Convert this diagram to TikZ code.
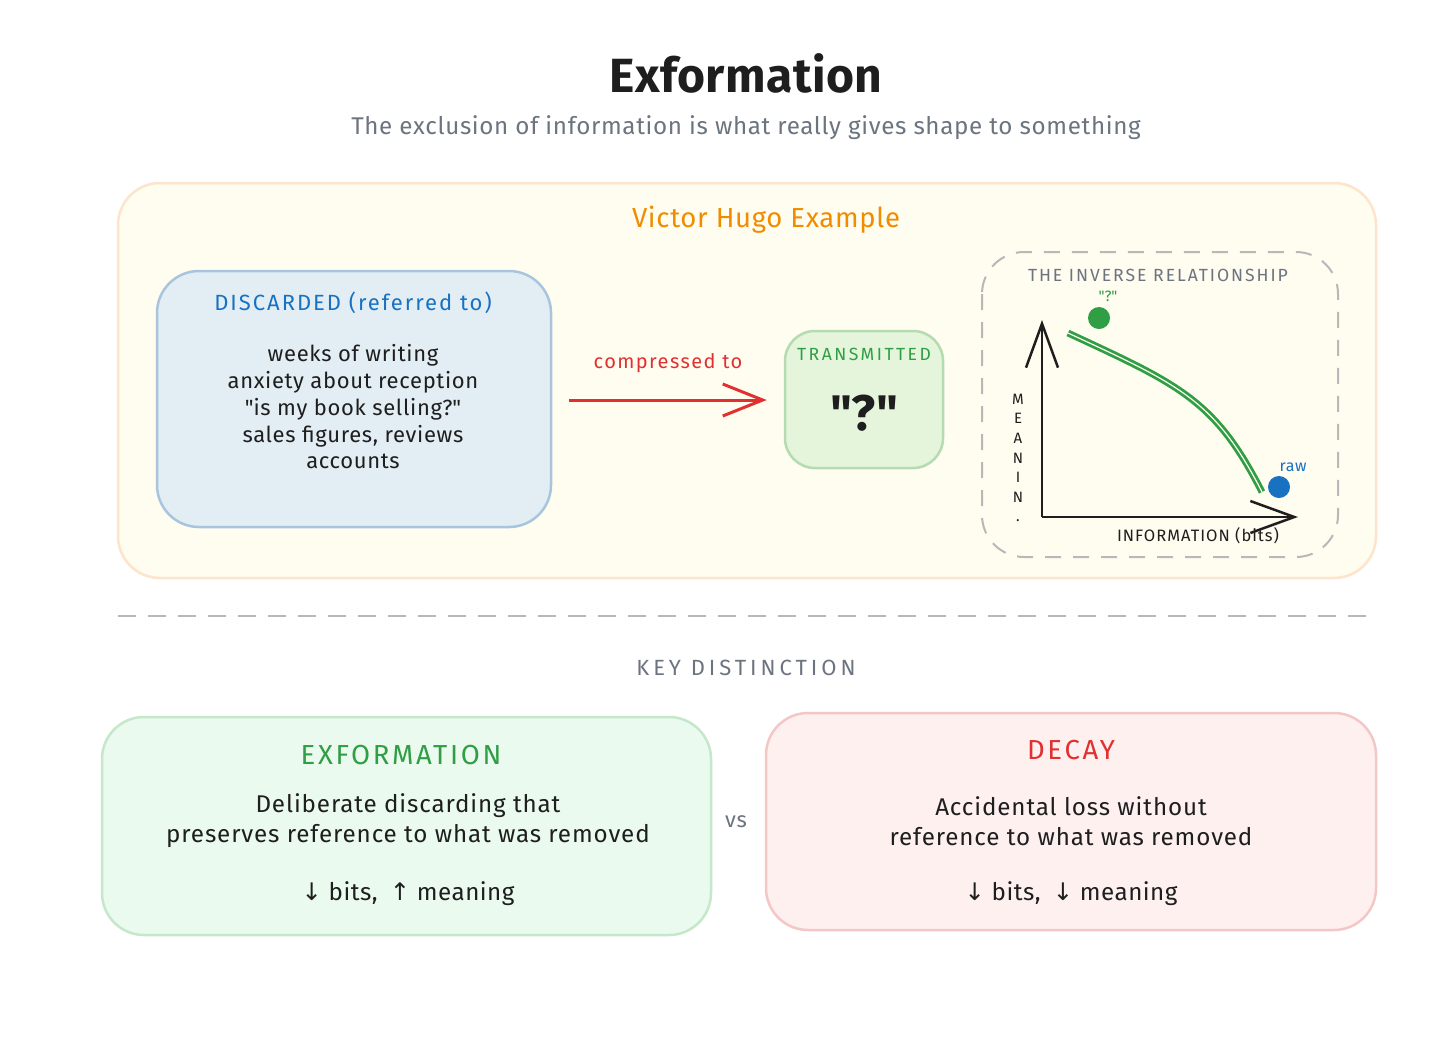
\documentclass[tikz,border=0pt]{standalone}
\usepackage{fontspec}
\setmainfont{Fira Sans}
\newfontfamily\arrowfont{DejaVu Sans}
\newcommand\spaced[1]{\addfontfeature{LetterSpace=#1}}
\usetikzlibrary{arrows.meta,positioning}
\definecolor{ink}{HTML}{1E1E1E}
\definecolor{slate}{HTML}{6C7480}
\definecolor{panelfill}{HTML}{FFFCF0}
\definecolor{panelline}{HTML}{FDE4CB}
\definecolor{bluefill}{HTML}{E2EEF4}
\definecolor{blueline}{HTML}{A8C5DD}
\definecolor{bluetext}{HTML}{1971C2}
\definecolor{tealfill}{HTML}{E5F5DC}
\definecolor{tealline}{HTML}{B5DBB0}
\definecolor{greenfill}{HTML}{EBFAEE}
\definecolor{greenline}{HTML}{C5E8CB}
\definecolor{greentext}{HTML}{2F9E44}
\definecolor{redfill}{HTML}{FFF0F0}
\definecolor{redline}{HTML}{F4C7C7}
\definecolor{redtext}{HTML}{E03131}
\definecolor{orangetext}{HTML}{F08C00}
\definecolor{dashgray}{HTML}{B8B8B8}

\begin{document}
\begin{tikzpicture}[x=1pt, y=-1pt, box/.style={draw, line width=2.5pt, rounded corners=42pt, inner sep=0pt}, lbl/.style={inner sep=0pt, align=center}, arr/.style={line width=3pt, -{Straight Barb[length=40pt, width=32pt]}}, axis/.style={line width=2.5pt, -{Straight Barb[length=44pt, width=32pt]}}, dot/.style={circle, inner sep=0pt, minimum size=22pt}, curve/.style={draw=greentext, line width=2.8pt, double=panelfill, double distance=1.2pt}]
\useasboundingbox[fill=white] (0,0) rectangle (1456,1045);
\node[lbl, font=\fontsize{48}{54}\selectfont\bfseries\spaced{1}, text=ink] (title) at (746,73) {Exformation};
\node[lbl, font=\fontsize{24.2}{28}\selectfont\spaced{2.7}, text=slate] (subtitle) at (746,128) {The exclusion of information is what really gives shape to something};
\node[box, draw=panelline, fill=panelfill, minimum width=1258pt, minimum height=395pt] (panel) at (747,380.5) {};
\node[lbl, font=\fontsize{27.5}{32}\selectfont\spaced{2.5}, text=orangetext] (hugo) at (766,220) {Victor Hugo Example};
\node[box, draw=blueline, fill=bluefill, minimum width=394pt, minimum height=256pt] (discarded) at (354,399) {};
\node[lbl, font=\fontsize{22}{26}\selectfont\spaced{9}, text=bluetext] (disctitle) at (353,303) {DISCARDED (referred to)};
\node[lbl, font=\fontsize{22}{26.75}\selectfont\spaced{3}, text=ink] (disclist) at (353,407) {weeks of writing\\anxiety about reception\\\textquotedbl is my book selling?\textquotedbl\\sales figures, reviews\\accounts};
\node[box, draw=tealline, fill=tealfill, minimum width=158pt, minimum height=137pt, rounded corners=30pt] (transmitted) at (864,399.5) {};
\node[lbl, font=\fontsize{17.6}{20}\selectfont\spaced{14}, text=greentext] (transtitle) at (864,354) {TRANSMITTED};
\node[lbl, font=\fontsize{50}{56}\selectfont\bfseries, text=ink] (quest) at (864,413) {\textquotedbl?\textquotedbl};
\node[lbl, font=\fontsize{20}{24}\selectfont\spaced{7}, text=redtext] (compress) at (668,363) {compressed to};
\draw[arr, draw=redtext, shorten <=17pt, shorten >=17pt] (discarded.east |- 0,400) -- (transmitted.west |- 0,400);
\draw[dashgray, line width=2pt, dash pattern=on 16pt off 12pt, rounded corners=42pt] (982,252) rectangle (1338,557);
\node[lbl, font=\fontsize{17.6}{20}\selectfont\spaced{11}, text=slate] (invtitle) at (1158,275) {THE INVERSE RELATIONSHIP};
\coordinate (origin) at (1042,517);
\coordinate (ytip) at (1042,320);
\coordinate (xtip) at (1298,517);
\draw[axis, ink] (origin) -- (ytip);
\draw[axis, ink] (origin) -- (xtip);
\node[lbl, font=\fontsize{15}{19.6}\selectfont, text=ink] (ylabel) at (1018,458) {M\\E\\A\\N\\I\\N\\.};
\node[lbl, font=\fontsize{16.5}{18}\selectfont\spaced{6}, text=ink] (xlabel) at (1198,536) {INFORMATION (bits)};
\coordinate (cstart) at (1068,333);
\coordinate (cend) at (1262,492);
\draw[curve] (cstart) .. controls (1180,385) and (1215,400) .. (cend);
\node[dot, fill=greentext] (qdot) at (1099,318) {};
\node[lbl, font=\fontsize{15}{16}\selectfont, text=greentext, above=5pt of qdot, xshift=9pt] (qlabel) {\textquotedbl?\textquotedbl};
\node[dot, fill=bluetext] (rawdot) at (1279,487) {};
\node[lbl, font=\fontsize{16}{18}\selectfont\spaced{4}, text=bluetext] (rawlabel) at (1293,467) {raw};
\coordinate (sepleft) at (118,616);
\coordinate (sepright) at (1372,616);
\draw[dashgray, line width=2pt, dash pattern=on 18pt off 12pt] (sepleft) -- (sepright);
\node[lbl, font=\fontsize{22}{26}\selectfont\spaced{18}, text=slate] (keydist) at (746,668) {KEY DISTINCTION};
\node[box, draw=greenline, fill=greenfill, minimum width=609pt, minimum height=218pt] (exbox) at (406.5,826) {};
\node[lbl, font=\fontsize{27.5}{32}\selectfont\spaced{9.6}, text=greentext] (extitle) at (401,755) {EXFORMATION};
\node[lbl, font=\fontsize{24.2}{30}\selectfont\spaced{3.6}, text=ink] (exbody) at (408,821) {Deliberate discarding that\\preserves reference to what was removed};
\node[lbl, font=\fontsize{24.2}{28}\selectfont\spaced{2}, text=ink] (exarrows) at (408,894) {{\arrowfont↓} bits,\enspace{\arrowfont↑} meaning};
\node[lbl, font=\fontsize{22}{26}\selectfont\spaced{4}, text=slate] (vs) at (736,822) {vs};
\node[box, draw=redline, fill=redfill, minimum width=610pt, minimum height=217pt] (decaybox) at (1071,821.5) {};
\node[lbl, font=\fontsize{27.5}{32}\selectfont\spaced{10}, text=redtext] (decaytitle) at (1071,750) {DECAY};
\node[lbl, font=\fontsize{24.2}{30}\selectfont\spaced{3.6}, text=ink] (decaybody) at (1071,821) {Accidental loss without\\reference to what was removed};
\node[lbl, font=\fontsize{24.2}{28}\selectfont\spaced{2}, text=ink] (decayarrows) at (1071,894) {{\arrowfont↓} bits,\enspace{\arrowfont↓} meaning};
\end{tikzpicture}
\end{document}
